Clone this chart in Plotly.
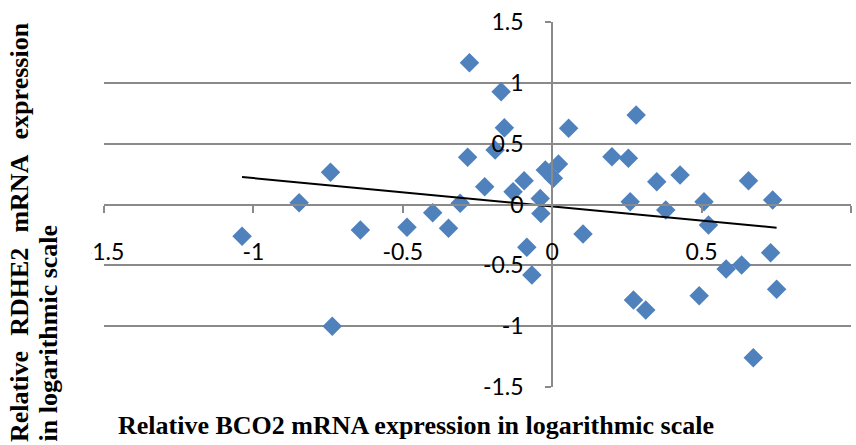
import numpy as np
import plotly.graph_objects as go

# Relative BCO2 (x) and RDHE2 (y) mRNA expression, log scale
bco2 = [-1.038, -0.847, -0.742, -0.736, -0.642, -0.486, -0.400, -0.347, -0.308,
        -0.283, -0.277, -0.226, -0.191, -0.171, -0.160, -0.131, -0.094, -0.085,
        -0.068, -0.040, -0.038, -0.023, 0.004, 0.021, 0.055, 0.103, 0.200,
        0.255, 0.261, 0.272, 0.281, 0.313, 0.350, 0.380, 0.428, 0.492, 0.508,
        0.523, 0.582, 0.634, 0.657, 0.673, 0.731, 0.738, 0.751]
rdhe2 = [-0.260, 0.015, 0.265, -1.000, -0.210, -0.188, -0.067, -0.196, 0.010,
         0.388, 1.165, 0.146, 0.448, 0.927, 0.630, 0.105, 0.196, -0.352,
         -0.579, 0.050, -0.073, 0.283, 0.215, 0.333, 0.626, -0.242, 0.393,
         0.380, 0.023, -0.785, 0.735, -0.867, 0.187, -0.045, 0.242, -0.749, 0.023,
         -0.168, -0.530, -0.497, 0.196, -1.259, -0.396, 0.037, -0.697]

x_ticks = [-1.5, -1.0, -0.5, 0.0, 0.5, 1.0]
x_tick_labels = ["-1.5", "-1", "-0.5", "0", "0.5", "1"]
y_ticks = [-1.5, -1.0, -0.5, 0.0, 0.5, 1.0, 1.5]
y_tick_labels = ["-1.5", "-1", "-0.5", "0", "0.5", "1", "1.5"]

x_title = "Relative BCO2 mRNA expression in logarithmic scale"
GAP = "\u00a0\u00a0\u200a"
y_title_1 = GAP.join(["Relative", "RDHE2", "mRNA", "expression"])
y_title_2 = "in logarithmic scale"

# Linear trendline (least squares) over the data's x extent
slope, intercept = np.polyfit(bco2, rdhe2, 1)
trend_x = [min(bco2), max(bco2)]
trend_y = [slope * v + intercept for v in trend_x]

GRID = "#8a8a8a"
TICK_FONT = dict(family="Lato, Liberation Sans, sans-serif", size=23, color="#000000")
TITLE_FONT = dict(family="Liberation Serif, Times New Roman, serif", size=26,
                  color="#000000", weight="bold")

fig = go.Figure()
fig.add_trace(go.Scatter(
    x=bco2, y=rdhe2, mode="markers",
    marker=dict(symbol="diamond", size=15, color="#4F81BD", line=dict(width=0)),
    showlegend=False, hoverinfo="skip",
))
fig.add_trace(go.Scatter(
    x=trend_x, y=trend_y, mode="lines",
    line=dict(color="#000000", width=2),
    showlegend=False, hoverinfo="skip",
))

x_range = [-1.5, 1.0]
y_range = [-1.5, 1.5]

fig.update_layout(
    width=856, height=445,
    margin=dict(l=104, r=5, t=22, b=58),
    paper_bgcolor="white", plot_bgcolor="white",
    xaxis=dict(
        range=x_range, tickmode="array", tickvals=x_ticks, ticktext=x_tick_labels,
        anchor="free", position=(0 - y_range[0]) / (y_range[1] - y_range[0]),
        showline=True, linecolor=GRID, linewidth=2,
        ticks="outside", ticklen=7, tickwidth=2, tickcolor=GRID,
        showgrid=False, zeroline=False, automargin=False,
        tickfont=TICK_FONT, ticklabelstandoff=20,
    ),
    yaxis=dict(
        range=y_range, tickmode="array", tickvals=y_ticks, ticktext=y_tick_labels,
        anchor="free", position=(0 - x_range[0]) / (x_range[1] - x_range[0]),
        showline=True, linecolor=GRID, linewidth=2,
        ticks="outside", ticklen=6, tickwidth=2, tickcolor=GRID,
        showgrid=True, gridcolor=GRID, gridwidth=2,
        zeroline=False, automargin=False,
        tickfont=TICK_FONT, ticklabelstandoff=17,
    ),
    shapes=[dict(
        type="rect", xref="paper", yref="paper", layer="above",
        x0=-104 / 747, x1=(91 - 104) / 747, y0=-58 / 365, y1=1 + 22 / 365,
        fillcolor="white", line=dict(width=0),
    )],
    annotations=[
        dict(text=x_title, xref="paper", yref="paper",
             x=(416 - 104) / 747, y=-(425 - 387) / 365,
             xanchor="center", yanchor="middle", showarrow=False, font=TITLE_FONT),
        dict(text=y_title_1, xref="paper", yref="paper",
             x=(20 - 104) / 747, y=-(444 - 387) / 365,
             xanchor="center", yanchor="bottom", textangle=-90,
             showarrow=False, font=TITLE_FONT),
        dict(text=y_title_2, xref="paper", yref="paper",
             x=(48 - 104) / 747, y=-(444 - 387) / 365,
             xanchor="center", yanchor="bottom", textangle=-90,
             showarrow=False, font=TITLE_FONT),
    ],
)

fig.write_html("out.html")
